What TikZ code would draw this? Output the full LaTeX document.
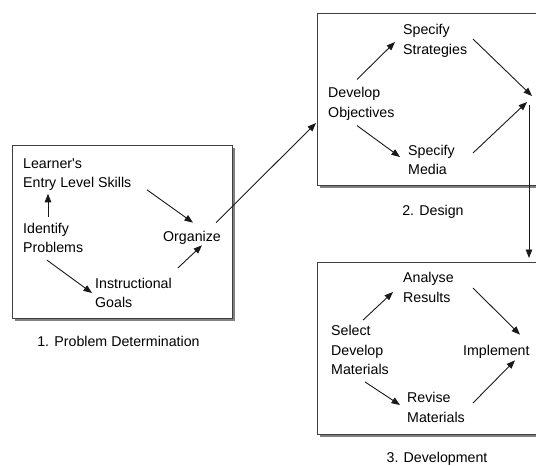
\documentclass[tikz,border=0pt]{standalone}
\usepackage{fontspec}
\setmainfont{Liberation Sans}
\usetikzlibrary{arrows.meta}

\begin{document}
\begin{tikzpicture}[
    x=1pt, y=-1pt,
    font=\fontsize{14.2}{19.5}\selectfont,
    t/.style={anchor=west, align=left, inner sep=1pt},
    c/.style={inner sep=1pt},
    a/.style={
        line width=0.9pt, color=black!90,
        -{Triangle[length=8.5pt,width=6.5pt]}
    },
    sh/.style={fill=black!50},
    b/.style={draw=black!75, fill=white, line width=0.8pt}
]

    \path [use as bounding box, clip] (0,0) rectangle (536,466);

    \fill [sh] ( 14.5, 147.5) rectangle (234.5, 320.5);
    \fill [sh] (319.5,  15.5) rectangle (562  , 187.5);
    \fill [sh] (319.5, 264.5) rectangle (562  , 436.5);
    \draw [b] ( 12, 145) rectangle (232, 318);
    \draw [b] (317,  13) rectangle (560, 185);
    \draw [b] (317, 262) rectangle (560, 434);

    \node [t] (learner)   at ( 22, 174.5) {Learner\textquotesingle s\\Entry Level Skills};
    \node [t] (identify)  at ( 22, 238  ) {Identify\\Problems};
    \node [t] (organize)  at (162, 237.5) {Organize};
    \node [t] (goals)     at ( 94, 293  ) {Instructional\\Goals};
    \node [t] (develop)   at (327, 104  ) {Develop\\Objectives};
    \node [t] (strategy)  at (402,  41  ) {Specify\\Strategies};
    \node [t] (media)     at (407, 160  ) {Specify\\Media};
    \node [t] (select)    at (330, 350  ) {Select\\Develop\\Materials};
    \node [t] (analyse)   at (402, 287.5) {Analyse\\Results};
    \node [t] (revise)    at (406, 407.5) {Revise\\Materials};
    \node [t] (implement) at (462, 351.5) {Implement};

    \node [c] (cap1) at (118.5, 341  ) {1. Problem Determination};
    \node [c] (cap2) at (433  , 211.5) {2. Design};
    \node [c] (cap3) at (437  , 458.5) {3. Development};

    \coordinate (din)  at (316, 123);
    \coordinate (join) at (530,  99);
    \coordinate (dtop) at (529, 258);

    \draw ([shift={(26,-5)}]identify.north west) edge [a] ([shift={(26,2)}]learner.south west);
    \draw ([shift={(125,-2)}]learner.south west) edge [a] ([shift={(31,-7)}]organize.north west);
    \draw ([shift={(25,6)}]identify.south west) edge [a] ([shift={(-2,0)}]goals.west);
    \draw ([shift={(84,-9)}]goals.north west) edge [a] ([shift={(40,0)}]organize.south west);
    \draw ([shift={(54,-7)}]organize.north west) edge [a] (din);

    \draw ([shift={(30,-7)}]develop.north west) edge [a] ([shift={(-7,1)}]strategy.west);
    \draw ([shift={(30,4)}]develop.south west) edge [a] ([shift={(-7,-3)}]media.west);
    \draw ([shift={(71,-2)}]strategy.west) edge [a] ([shift={(2,-3)}]join);
    \draw ([shift={(66,-7)}]media.west) edge [a] ([shift={(-3,3)}]join);
    \draw ([shift={(-1,6)}]join) edge [a] (dtop);

    \draw ([shift={(33,-4)}]select.north west) edge [a] ([shift={(-9,4.5)}]analyse.west);
    \draw ([shift={(35,6)}]select.south west) edge [a] ([shift={(-6,-2.5)}]revise.west);
    \draw ([shift={(71,0.5)}]analyse.west) edge [a] ([shift={(58,-9)}]implement.north west);
    \draw ([shift={(67,-4.5)}]revise.west) edge [a] ([shift={(53,1)}]implement.south west);

\end{tikzpicture}
\end{document}
